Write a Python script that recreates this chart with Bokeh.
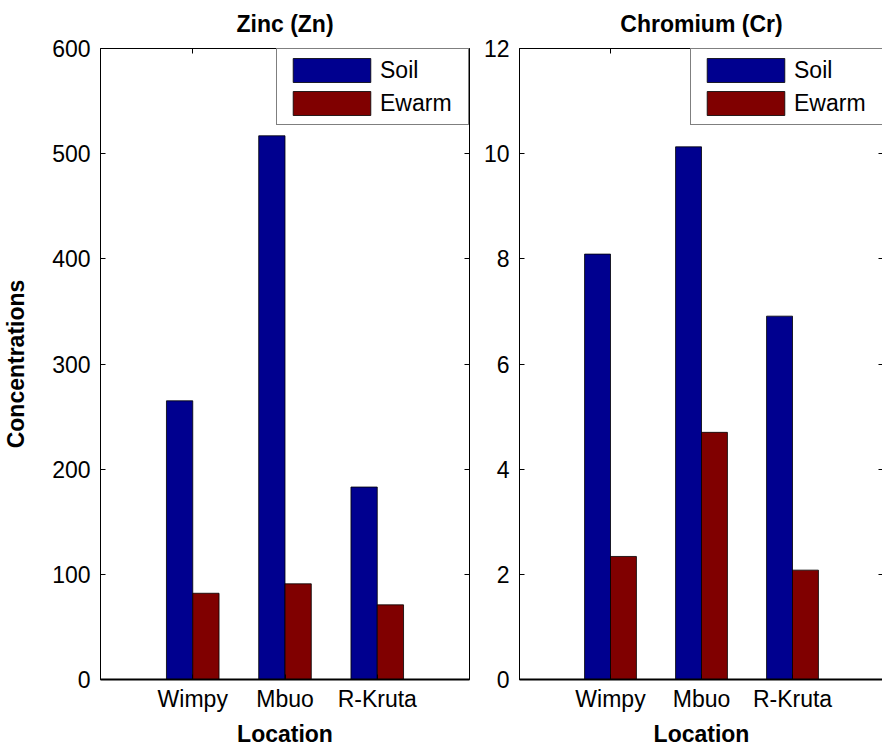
from bokeh.plotting import figure
from bokeh.layouts import row
from bokeh.models import (ColumnDataSource, FixedTicker, LinearAxis, Legend, LegendItem,
                          Range1d, CustomLabelingPolicy)
from bokeh.transform import dodge
from bokeh.embed import file_html
from bokeh.resources import INLINE

# ---- data ----
locations = ["Wimpy", "Mbuo", "R-Kruta"]
positions = [1, 2, 3]
zn_soil = [265, 517, 183]
zn_ewarm = [82, 91, 71]
cr_soil = [8.09, 10.13, 6.91]
cr_ewarm = [2.34, 4.70, 2.08]
zn_yticks = [0, 100, 200, 300, 400, 500, 600]
cr_yticks = [0, 2, 4, 6, 8, 10, 12]
series_names = ["Soil", "Ewarm"]
series_colors = ["#00008F", "#800000"]

FONT = "Liberation Sans"
BAR_W = 0.285


def make_panel(title, soil, ewarm, yticks, ylabel, border_left, border_right, frame_w):
    src = ColumnDataSource(dict(x=positions, soil=soil, ewarm=ewarm))
    p = figure(frame_width=frame_w, frame_height=631,
               x_range=Range1d(0, 4), y_range=Range1d(yticks[0], yticks[-1]),
               min_border_left=border_left, min_border_right=border_right,
               min_border_top=47, min_border_bottom=52,
               output_backend="svg", toolbar_location=None,
               background_fill_color="white", border_fill_color="white")
    p.title.text = title
    p.title.align = "center"
    p.title.text_font = FONT
    p.title.text_font_size = "23px"
    p.title.text_font_style = "bold"
    p.title.text_color = "black"
    p.title.standoff = 16
    p.grid.visible = False
    p.outline_line_color = "black"
    p.outline_line_width = 1

    r1 = p.vbar(x=dodge("x", -BAR_W / 2), top="soil", width=BAR_W, source=src,
                fill_color=series_colors[0], line_color="black", line_width=0.8)
    r2 = p.vbar(x=dodge("x", BAR_W / 2), top="ewarm", width=BAR_W, source=src,
                fill_color=series_colors[1], line_color="black", line_width=0.8)

    xa = p.xaxis[0]
    xa.ticker = FixedTicker(ticks=positions)
    xa.major_label_overrides = {pos: lab for pos, lab in zip(positions, locations)}
    xa.axis_label = "Location"
    xa.axis_line_width = 2
    ya = p.yaxis[0]
    ya.ticker = FixedTicker(ticks=yticks)
    ya.axis_label = ylabel
    for ax in (xa, ya):
        ax.major_tick_in = 5
        ax.major_tick_out = 0
        ax.minor_tick_line_color = None
        ax.major_label_text_font = FONT
        ax.major_label_text_font_size = "23px"
        ax.major_label_text_color = "black"
        ax.axis_label_text_font = FONT
        ax.axis_label_text_font_size = "23px"
        ax.axis_label_text_font_style = "bold"
        ax.axis_label_text_color = "black"
        ax.axis_line_color = "black"
        ax.major_tick_line_color = "black"
    xa.major_label_standoff = 6
    xa.axis_label_standoff = 6
    ya.major_label_standoff = 10
    ya.axis_label_standoff = 20

    # mirrored inward ticks (top and right), labels suppressed
    top = LinearAxis(ticker=FixedTicker(ticks=positions))
    right = LinearAxis(ticker=FixedTicker(ticks=yticks))
    for ax in (top, right):
        ax.major_tick_in = 5
        ax.major_tick_out = 0
        ax.minor_tick_line_color = None
        ax.major_label_text_font_size = "1px"
        ax.major_label_standoff = 0
        ax.major_label_policy = CustomLabelingPolicy(
            code="for (const i of [...indices]) { indices.unset(i) }; return indices")
        ax.axis_line_color = None
        ax.major_tick_line_color = "black"
    p.add_layout(top, "above")
    p.add_layout(right, "right")

    legend = Legend(items=[LegendItem(label=series_names[0], renderers=[r1]),
                           LegendItem(label=series_names[1], renderers=[r2])],
                    location="top_right")
    legend.margin = 0
    legend.padding = 6
    legend.spacing = 3
    legend.glyph_width = 97
    legend.glyph_height = 30
    legend.label_height = 30
    legend.label_width = 82
    legend.label_standoff = 0
    legend.label_text_font = FONT
    legend.label_text_font_size = "23px"
    legend.label_text_color = "black"
    legend.border_line_color = "black"
    legend.border_line_width = 1
    legend.background_fill_color = "white"
    legend.background_fill_alpha = 1
    p.add_layout(legend)
    return p


p1 = make_panel("Zinc (Zn)", zn_soil, zn_ewarm, zn_yticks, "Concentrations", 89, 10, 369)
p2 = make_panel("Chromium (Cr)", cr_soil, cr_ewarm, cr_yticks, "", 40, 1, 364)

layout = row(p1, p2)
open("out.html", "w").write(file_html(layout, INLINE))
